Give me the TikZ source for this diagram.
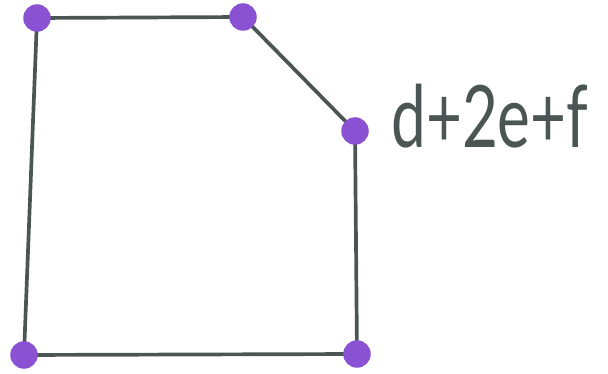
\documentclass[tikz,border=0pt]{standalone}
\usepackage{fontspec}
\setmainfont{Lato}
\usetikzlibrary{positioning, backgrounds}
\definecolor{edgegray}{HTML}{4B5654}
\definecolor{dotpurple}{HTML}{8A52D2}

\begin{document}
\begin{tikzpicture}[x=0.02cm, y=-0.02cm,
    vertex/.style={circle, fill=dotpurple, inner sep=0pt, minimum size=0.55cm},
    edge/.style={draw=edgegray, line width=2.1pt},
    every node/.style={text=edgegray}]
    \useasboundingbox (0,0) rectangle (608,374);
    % corners of the shape
    \node[vertex] (tl) at (37,18) {};
    \node[vertex] (tm) at (243,17) {};
    \node[vertex] (rt) at (355,131) {};
    \node[vertex] (br) at (357,354) {};
    \node[vertex] (bl) at (24,355) {};

    \begin{scope}[on background layer]
    \draw[edge] (tl.center) -- (tm.center) -- (rt.center) -- (br.center) -- (bl.center) -- cycle;
    \end{scope}

    \node[anchor=base west, inner sep=0pt, font=\fontsize{49}{56}\selectfont] (lbl) at (391,148) {\scalebox{0.72}[1]{d+2e+f}};
  \end{tikzpicture}
\end{document}
